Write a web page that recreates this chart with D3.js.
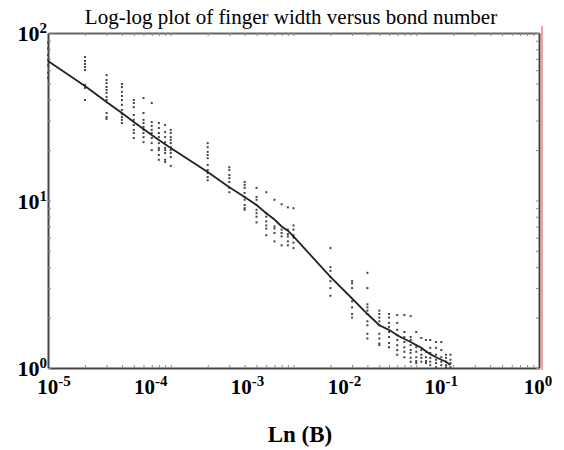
<!DOCTYPE html>
<html>
<head>
<meta charset="utf-8">
<script src="https://cdn.jsdelivr.net/npm/d3@7"></script>
<style>
  body { margin: 0; background: #fff; }
  svg { display: block; }
  text { font-family: "Liberation Serif", "Times New Roman", serif; fill: #000; }
</style>
</head>
<body>
<div id="chart"></div>
<script>
// Bond number columns (as drawn on the plot's own log ticks)
const bondNumbers = [
    1e-5, 2e-5, 3e-5, 4e-5, 5e-5, 6e-5, 7e-5, 8e-5, 9e-5,
    1e-4, 2e-4, 3e-4, 4e-4, 5e-4, 6e-4, 7e-4, 8e-4, 9e-4,
    1e-3, 2e-3, 3e-3, 4e-3, 5e-3, 6e-3, 7e-3, 8e-3, 9e-3,
    1e-2, 1.1e-2, 1.2e-2, 1.3e-2, 1.45e-2, 1.6e-2, 1.75e-2, 1.9e-2
];

// Measured finger widths, one list per bond number
const fingerWidths = [
    [88, 81, 74, 69, 64, 58, 54],
    [71.9, 68.1, 65.3, 62.7, 60.1, 49.0, 47.0, 39.8],
    [56.1, 52.4, 50.2, 47.6, 45.7, 43.9, 41.5, 39.8, 33.3, 31.5, 30.7],
    [49.6, 47.6, 44.5, 42.1, 39.8, 37.2, 34.7, 32.8, 31.5, 30.3, 29.0],
    [39.8, 38.2, 36.1, 32.4, 30.3, 28.2, 26.4, 25.3, 23.6],
    [40.9, 33.3, 30.3, 29.0, 27.5, 26.4, 25.3, 23.9, 22.3],
    [38.2, 29.4, 27.9, 26.4, 25.3, 23.6, 22.0, 20.0],
    [29.0, 27.1, 25.3, 23.9, 22.0, 20.6, 20.0, 18.7, 17.5],
    [28.2, 25.6, 23.9, 22.3, 20.6, 20.0, 19.2, 17.5, 17.0],
    [26.4, 25.3, 23.9, 23.0, 22.0, 20.8, 20.0, 19.2, 18.2, 16.1],
    [22.0, 20.8, 19.5, 18.7, 17.9, 16.3, 15.2, 14.6, 13.8, 13.2],
    [15.8, 15.2, 14.2, 13.6, 12.9, 11.9, 11.2],
    [12.9, 12.4, 11.9, 11.1, 10.5, 10.1, 9.4, 9.0, 8.8],
    [11.9, 10.5, 10.1, 9.4, 8.8, 8.4, 8.0, 7.4],
    [11.2, 8.4, 8.0, 7.5, 7.1, 6.8, 6.2],
    [10.1, 7.0, 6.8, 6.4, 5.7],
    [9.5, 6.7, 6.4, 6.1, 5.4],
    [9.1, 6.7, 6.3, 6.1, 5.7, 5.4],
    [9.0, 7.1, 6.7, 6.2, 6.0, 5.6, 5.2],
    [5.2, 4.0, 3.8, 3.5, 3.3, 3.0, 2.7],
    [3.3, 3.2, 3.0, 2.5, 2.3, 2.1, 2.0],
    [3.7, 3.0, 2.4, 2.3, 2.2, 2.1, 1.9, 1.8, 1.6, 1.5],
    [2.2, 2.1, 2.0, 1.9, 1.8, 1.6, 1.5, 1.4, 1.37],
    [2.1, 2.0, 1.86, 1.76, 1.64, 1.53, 1.41, 1.33],
    [2.07, 1.86, 1.69, 1.57, 1.47, 1.37, 1.28, 1.20],
    [2.07, 1.64, 1.53, 1.43, 1.33, 1.25, 1.16],
    [2.04, 1.53, 1.47, 1.37, 1.28, 1.23, 1.15, 1.09],
    [1.64, 1.33, 1.25, 1.16, 1.10, 1.07],
    [1.51, 1.28, 1.20, 1.15, 1.09],
    [1.47, 1.25, 1.16, 1.10, 1.07],
    [1.47, 1.32, 1.23, 1.15, 1.09, 1.04],
    [1.43, 1.32, 1.20, 1.12, 1.07, 1.01],
    [1.43, 1.28, 1.16, 1.09, 1.04],
    [1.20, 1.15, 1.09, 1.04, 1.01],
    [1.20, 1.12, 1.07, 1.01]
];

// Fitted curve, one value per bond number
const fitWidths = [
    68.1, 48.3, 38.7, 33.3, 29.4, 26.7, 24.6, 23.0, 21.7,
    20.6, 14.8, 12.0, 10.5, 9.4, 8.4, 7.7, 7.0, 6.6,
    6.1, 3.5, 2.6, 2.1, 1.8, 1.69, 1.57, 1.49, 1.43,
    1.37, 1.32, 1.26, 1.21, 1.16, 1.12, 1.09, 1.04
];

// Axis labels
const xTickExponents = ["-5", "-4", "-3", "-2", "-1", "0"];
const yTickExponents = ["0", "1", "2"];
const chartTitle = "Log-log plot of finger width versus bond number";
const xTitle = "Ln (B)";

const width = 564, height = 450;
const plotLeft = 48, plotRight = 539, plotTop = 33, plotBottom = 368;

const svg = d3.select("#chart").append("svg")
    .attr("width", width)
    .attr("height", height);

const x = d3.scaleLog().domain([1e-5, 1e-1]).range([plotLeft, plotRight]);
const y = d3.scaleLog().domain([1, 100]).range([plotBottom, plotTop]);
// labels are spread evenly along the bottom, independent of the tick marks
const xLabel = d3.scalePoint().domain(xTickExponents).range([54, 538]);

// frame ticks
const tickStyle = g => {
    g.selectAll(".tick line").attr("stroke", "#888").attr("stroke-width", 1);
    g.select(".domain").attr("stroke", "#444").attr("stroke-width", 2);
};
svg.append("g").attr("transform", `translate(0,${plotBottom})`)
    .call(d3.axisBottom(x).tickSizeInner(-3).tickSizeOuter(0).tickFormat(""))
    .call(tickStyle);
svg.append("g").attr("transform", `translate(0,${plotTop})`)
    .call(d3.axisTop(x).tickSizeInner(-3).tickSizeOuter(0).tickFormat(""))
    .call(tickStyle)
    .select(".domain").attr("stroke", "#666");
svg.append("g").attr("transform", `translate(${plotLeft},0)`)
    .call(d3.axisLeft(y).tickSizeInner(-3).tickSizeOuter(0).tickFormat(""))
    .call(tickStyle);
svg.append("g").attr("transform", `translate(${plotRight},0)`)
    .call(d3.axisRight(y).tickSizeInner(-3).tickSizeOuter(0).tickFormat(""))
    .call(tickStyle);

// thin red edge line to the right of the frame
svg.append("line")
    .attr("x1", plotRight + 3).attr("x2", plotRight + 3)
    .attr("y1", plotTop - 7).attr("y2", plotBottom + 2)
    .attr("stroke", "#ff7a7a")
    .attr("stroke-width", 1.5);

// scatter points
const points = bondNumbers.flatMap((b, i) => fingerWidths[i].map(w => ({ b, w })));
svg.append("g")
    .selectAll("rect")
    .data(points)
    .enter()
    .append("rect")
    .attr("x", d => x(d.b) - 1)
    .attr("y", d => y(d.w) - 1)
    .attr("width", 2)
    .attr("height", 2)
    .attr("fill", "#444");

// fitted curve
const line = d3.line()
    .x((d, i) => x(bondNumbers[i]))
    .y(d => y(d));
svg.append("path")
    .datum(fitWidths)
    .attr("d", line)
    .attr("fill", "none")
    .attr("stroke", "#222")
    .attr("stroke-width", 1.8);

// title
svg.append("text")
    .attr("x", 291)
    .attr("y", 24)
    .attr("text-anchor", "middle")
    .style("font-size", "21px")
    .text(chartTitle);

// y tick labels
yTickExponents.forEach(e => {
    const t = svg.append("text")
        .attr("x", 47)
        .attr("y", y(Math.pow(10, +e)) + 8)
        .attr("text-anchor", "end")
        .style("font-size", "22px")
        .style("font-weight", "bold");
    t.append("tspan").text("10");
    t.append("tspan").attr("dy", -8).style("font-size", "15px").text(e);
});

// x tick labels
xTickExponents.forEach(e => {
    const t = svg.append("text")
        .attr("x", xLabel(e))
        .attr("y", 394)
        .attr("text-anchor", "middle")
        .style("font-size", "21px")
        .style("font-weight", "bold");
    t.append("tspan").text("10");
    t.append("tspan").attr("dy", -8).style("font-size", "15px").text(e);
});

// x axis title
svg.append("text")
    .attr("x", 300)
    .attr("y", 442)
    .attr("text-anchor", "middle")
    .style("font-size", "23px")
    .style("font-weight", "bold")
    .text(xTitle);
</script>
</body>
</html>
